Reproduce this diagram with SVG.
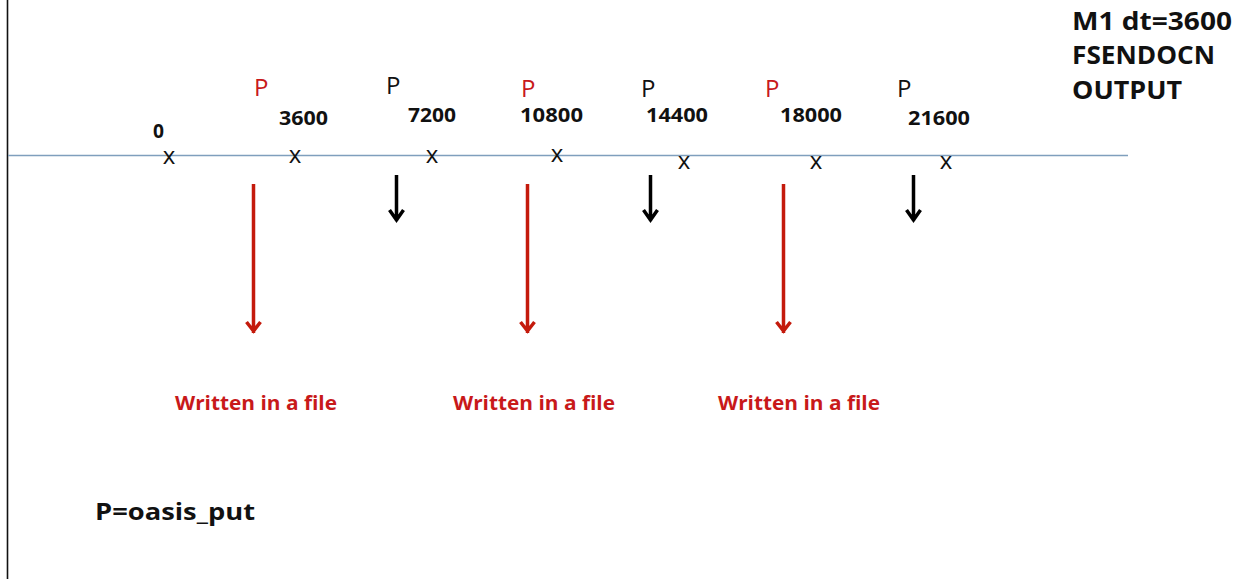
<svg xmlns="http://www.w3.org/2000/svg" width="1247" height="579" viewBox="0 0 1247 579">
<style>
.t{font-family:"Open Sans","Liberation Sans",sans-serif;}
.b{font-weight:bold;}
.red{fill:#c8191a;}
.blk{fill:#111;}
.num{font-size:19px;font-weight:bold;fill:#111;}
.p{font-size:24px;}
.x{font-size:24px;fill:#111;text-anchor:middle;}
.ra{stroke:#c41a0c;stroke-width:3.5;fill:none;}
.ba{stroke:#000;stroke-width:3.5;fill:none;}
</style>
<rect width="1247" height="579" fill="#fff"/>
<line x1="7.5" y1="0" x2="7.5" y2="579" stroke="#111" stroke-width="1.6"/>
<g id="axis">
<line x1="8" y1="155.5" x2="1128" y2="155.5" stroke="#7f9fbd" stroke-width="1.4"/>
</g>
<g id="t0" class="t"><text class="num" x="153" y="138" textLength="11" lengthAdjust="spacingAndGlyphs">0</text><text class="x" x="169" y="164">x</text></g>
<g id="t3600" class="t"><text class="red p" x="254" y="96">P</text><text class="num" x="279" y="125" textLength="49" lengthAdjust="spacingAndGlyphs">3600</text><text class="x" x="295" y="163">x</text></g>
<g id="t7200" class="t"><text class="blk p" x="386" y="94">P</text><text class="num" x="408" y="121.5" textLength="48" lengthAdjust="spacingAndGlyphs">7200</text><text class="x" x="432" y="163">x</text></g>
<g id="t10800" class="t"><text class="red p" x="521" y="97">P</text><text class="num" x="520" y="121.5" textLength="63" lengthAdjust="spacingAndGlyphs">10800</text><text class="x" x="557" y="162">x</text></g>
<g id="t14400" class="t"><text class="blk p" x="641" y="97">P</text><text class="num" x="646" y="121.5" textLength="62" lengthAdjust="spacingAndGlyphs">14400</text><text class="x" x="684" y="169">x</text></g>
<g id="t18000" class="t"><text class="red p" x="765" y="97">P</text><text class="num" x="780" y="121.5" textLength="62" lengthAdjust="spacingAndGlyphs">18000</text><text class="x" x="816" y="169">x</text></g>
<g id="t21600" class="t"><text class="blk p" x="897" y="97">P</text><text class="num" x="908" y="125" textLength="62" lengthAdjust="spacingAndGlyphs">21600</text><text class="x" x="946" y="169">x</text></g>
<g id="connectors">
<path class="ra" d="M253.5 184V333M246.5 322L253.5 331L260.5 322"/>
<path class="ra" d="M527.5 184V333M520.5 322L527.5 331L534.5 322"/>
<path class="ra" d="M783.5 184V333M776.5 322L783.5 331L790.5 322"/>
<path class="ba" d="M396.5 175V221M389.5 210L396.5 220L403.5 210"/>
<path class="ba" d="M650.5 175V221M643.5 210L650.5 220L657.5 210"/>
<path class="ba" d="M913.5 175V221M906.5 210L913.5 220L920.5 210"/>
</g>
<g id="w1" class="t b red"><text x="175" y="410" font-size="20" textLength="162" lengthAdjust="spacingAndGlyphs">Written in a file</text></g>
<g id="w2" class="t b red"><text x="453" y="410" font-size="20" textLength="162" lengthAdjust="spacingAndGlyphs">Written in a file</text></g>
<g id="w3" class="t b red"><text x="718" y="410" font-size="20" textLength="162" lengthAdjust="spacingAndGlyphs">Written in a file</text></g>
<g id="legend" class="t b blk"><text x="95" y="520" font-size="24" textLength="160" lengthAdjust="spacingAndGlyphs">P=oasis_put</text></g>
<g id="title" class="t b blk" font-size="25">
<text x="1072" y="30" textLength="160" lengthAdjust="spacingAndGlyphs">M1 dt=3600</text>
<text x="1072" y="64" textLength="143" lengthAdjust="spacingAndGlyphs">FSENDOCN</text>
<text x="1072" y="99" textLength="110" lengthAdjust="spacingAndGlyphs">OUTPUT</text>
</g>
</svg>
